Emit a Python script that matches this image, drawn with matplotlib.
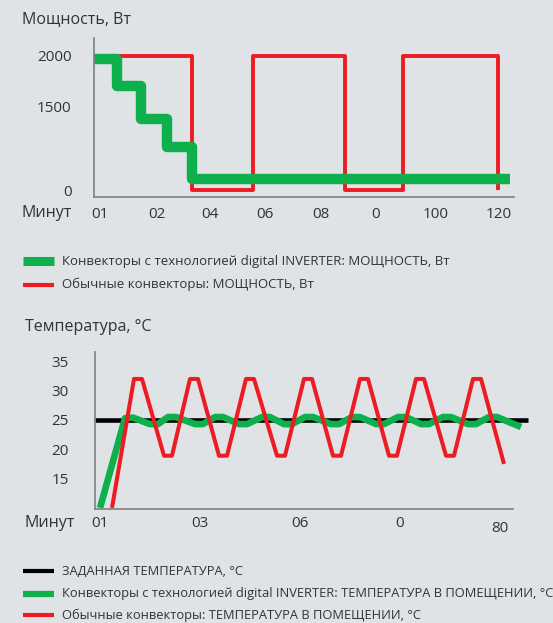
import numpy as np
import matplotlib.pyplot as plt
from matplotlib.lines import Line2D

plt.rcParams['font.family'] = ['Open Sans', 'DejaVu Sans']

W, H = 553, 623
fon = '#dfe3e6'
verde = '#0db04b'
rosu = '#ed1c24'
text_col = '#333333'
ax_col = '#7d7f80'

# ---- date grafic putere ----
putere_titlu = 'Мощность, Вт'
putere_xticks = [0, 1.0, 1.93, 2.9, 3.88, 4.85, 5.9, 7.0]
putere_xlabels = ['01', '02', '04', '06', '08', '0', '100', '120']
putere_yticks = [0, 1500, 2000]
putere_ylabels = ['0', '1500', '2000']

inv_t = [-0.105, 0.30, 0.72, 1.18, 1.62, 7.21]
inv_p = [1970, 1700, 1270, 770, 200, 200]

obis_t = [-0.105, 1.62, 2.69, 4.31, 5.33, 7.0]
obis_p = [2000, 0, 2000, 0, 2000, 0]

legenda_putere = ['Конвекторы с технологией digital INVERTER: МОЩНОСТЬ, Вт',
                  'Обычные конвекторы: МОЩНОСТЬ, Вт']

# ---- date grafic temperatura ----
temp_titlu = 'Температура, °C'
temp_xticks = [0, 1, 2, 3, 4]
temp_xlabels = ['01', '03', '06', '0', '80']
temp_yticks = [15, 20, 25, 30, 35]

setat_t = [-0.05, 4.28]
setat_T = [25, 25]

inv_tt = [0.0, 0.25, 0.33, 0.50, 0.58, 0.68, 0.76, 0.95, 1.03, 1.15, 1.23,
          1.39, 1.47, 1.62, 1.70, 1.84, 1.92, 2.05, 2.13, 2.31, 2.39, 2.52,
          2.60, 2.76, 2.84, 2.98, 3.06, 3.21, 3.29, 3.43, 3.51, 3.68, 3.76,
          3.89, 3.97, 4.21]
inv_T = [10, 25.3, 25.4, 24.3, 24.3, 25.5, 25.5, 24.3, 24.3, 25.5, 25.5,
         24.3, 24.3, 25.5, 25.5, 24.3, 24.3, 25.5, 25.5, 24.3, 24.3, 25.5,
         25.5, 24.3, 24.3, 25.5, 25.5, 24.3, 24.3, 25.5, 25.5, 24.3, 24.3,
         25.5, 25.5, 23.8]

obis_tt = [0.12, 0.34, 0.42, 0.64, 0.72, 0.90, 0.98, 1.19, 1.27, 1.46, 1.54,
           1.77, 1.85, 2.04, 2.12, 2.33, 2.41, 2.60, 2.68, 2.89, 2.97, 3.16,
           3.24, 3.46, 3.54, 3.73, 3.81, 4.04]
obis_T = [10, 32.0, 32.0, 18.9, 18.9, 32.0, 32.0, 18.9, 18.9, 32.0, 32.0,
          18.9, 18.9, 32.0, 32.0, 18.9, 18.9, 32.0, 32.0, 18.9, 18.9, 32.0,
          32.0, 18.9, 18.9, 32.0, 32.0, 17.5]

legenda_temp = ['ЗАДАННАЯ ТЕМПЕРАТУРА, °C',
                'Конвекторы с технологией digital INVERTER: ТЕМПЕРАТУРА В ПОМЕЩЕНИИ, °C',
                'Обычные конвекторы: ТЕМПЕРАТУРА В ПОМЕЩЕНИИ, °C']

fig = plt.figure(figsize=(W / 100, H / 100), dpi=100, facecolor=fon)


def fx(px):
    return px / W


def fy(py):
    return 1 - py / H


def stil_axe(ax):
    ax.set_facecolor('none')
    for s in ['top', 'right']:
        ax.spines[s].set_visible(False)
    for s in ['left', 'bottom']:
        ax.spines[s].set_color(ax_col)
        ax.spines[s].set_linewidth(1.2)
    ax.tick_params(length=0, labelsize=11, colors=text_col)


# scara verticala a graficului de putere (neliniara ca in original)
w_p = [-1000, 0, 1500, 2000, 5000]
w_v = [-56, 0, 84, 135, 441]


def fwd(v):
    return np.interp(v, w_p, w_v)


def inv(v):
    return np.interp(v, w_v, w_p)


# grafic 1
ax1 = fig.add_axes([fx(94), fy(197), fx(514 - 94), (197 - 38) / H])
stil_axe(ax1)
ax1.set_yscale('function', functions=(fwd, inv))
ax1.plot(obis_t, obis_p, drawstyle='steps-post', color=rosu, lw=2.8,
         solid_joinstyle='round', solid_capstyle='butt', clip_on=False)
ax1.plot(inv_t, inv_p, drawstyle='steps-post', color=verde, lw=7.5,
         solid_joinstyle='round', solid_capstyle='butt', clip_on=False)
ax1.set_xlim(-0.105, 7.276)
ax1.set_ylim(-125, 2176)
ax1.set_xticks(putere_xticks)
ax1.set_xticklabels(putere_xlabels)
ax1.set_yticks(putere_yticks)
ax1.set_yticklabels(putere_ylabels)
ax1.minorticks_off()
ax1.tick_params(axis='y', pad=16)
ax1.tick_params(axis='x', pad=7)
fig.text(fx(22), fy(19), putere_titlu, fontsize=11.5, color=text_col, va='center')
fig.text(fx(72), fy(213), 'Минут', fontsize=11.5, color=text_col, va='center', ha='right')

# legenda 1
for y, c, lw, lab in [(261, verde, 6.5, legenda_putere[0]), (284.5, rosu, 3, legenda_putere[1])]:
    fig.add_artist(Line2D([fx(23), fx(54)], [fy(y), fy(y)], color=c, lw=lw, solid_capstyle='butt'))
    fig.text(fx(62), fy(y), lab, fontsize=9.5, color=text_col, va='center')

# grafic 2
ax2 = fig.add_axes([fx(95), fy(509), fx(530 - 95), (509 - 352) / H])
stil_axe(ax2)
ax2.plot(setat_t, setat_T, color='black', lw=3.3, solid_capstyle='butt', clip_on=False)
ax2.plot(inv_tt, inv_T, color=verde, lw=4.8, solid_joinstyle='round',
         solid_capstyle='butt', clip_on=False)
ax2.plot(obis_tt, obis_T, color=rosu, lw=2.9, solid_joinstyle='round',
         solid_capstyle='butt', clip_on=False)
ax2.set_xlim(-0.05, 4.3)
ax2.set_ylim(9.81, 36.6)
ax2.spines['bottom'].set_bounds(-0.05, 4.13)
ax2.set_xticks(temp_xticks)
ax2.set_xticklabels(temp_xlabels)
ax2.set_yticks(temp_yticks)
ax2.tick_params(axis='y', pad=19)
ax2.tick_params(axis='x', pad=5)
ax2.get_xticklabels()[-1].set_y(-0.032)
fig.text(fx(25), fy(327), temp_titlu, fontsize=11.5, color=text_col, va='center')
fig.text(fx(75), fy(523), 'Минут', fontsize=11.5, color=text_col, va='center', ha='right')

# legenda 2
for y, c, lw, lab in [(571, 'black', 3, legenda_temp[0]), (594, verde, 4.5, legenda_temp[1]),
                      (615, rosu, 3, legenda_temp[2])]:
    fig.add_artist(Line2D([fx(23), fx(54)], [fy(y), fy(y)], color=c, lw=lw, solid_capstyle='butt'))
    fig.text(fx(62), fy(y), lab, fontsize=9.3, color=text_col, va='center')

fig.savefig('out.png', dpi=100, facecolor=fon)
